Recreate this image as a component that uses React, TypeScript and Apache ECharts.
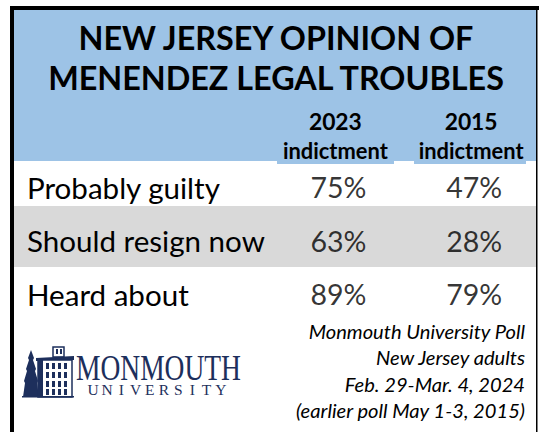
import React, { useEffect, useRef } from 'react';
import * as echarts from 'echarts';

// ---- data ----
const titleLines = ['NEW JERSEY OPINION OF', 'MENENDEZ LEGAL TROUBLES'];
const rows = ['Probably guilty', 'Should resign now', 'Heard about'];
const years = ['2023', '2015'];
const yearNote = 'indictment';
const values2023 = [75, 63, 89];
const values2015 = [47, 28, 79];
const sourceLines = [
  'Monmouth University Poll',
  'New Jersey adults',
  'Feb. 29-Mar. 4, 2024',
  '(earlier poll May 1-3, 2015)',
];
const logoName = 'MONMOUTH';
const logoSub = 'UNIVERSITY';

// ---- styling / layout ----
const FONT = 'Lato';
const SERIF = 'Liberation Serif';
const BLUE = '#9DC3E6';
const GRAY = '#D9D9D9';
const NAVY = '#1d2f5c';

function fitSize(text: string, target: number, weight = 'normal', style = 'normal', family = FONT) {
  const ctx = document.createElement('canvas').getContext('2d')!;
  ctx.font = `${style} ${weight} 100px "${family}"`;
  return (100 * target) / ctx.measureText(text).width;
}

export default function App() {
  const ref = useRef<HTMLDivElement>(null);
  useEffect(() => {
    const el = ref.current!;
    const chart = echarts.init(el, undefined, { renderer: 'svg' });

    const titleSize = fitSize(titleLines[1], 458, 'bold');
    const yearSize = fitSize(years[0], 53, 'bold');
    const noteSize = fitSize(yearNote, 105, 'bold');
    const rowSize = fitSize(rows[1], 238);
    const pctSize = fitSize('75%', 56);
    const srcSize = fitSize(sourceLines[3], 230, 'normal', 'italic');
    const monSize = fitSize(logoName, 165, 'normal', 'normal', SERIF);

    const C1 = 336;
    const C2 = 473;
    const band = C2 - C1;
    const gridLeft = C1 - band / 2;
    const rowTop = 160.5;
    const rowStep = 53.5;

    const txt = (text: string, x: number, y: number, size: number, extra: any = {}) => ({
      type: 'text',
      z: 10,
      x,
      y,
      style: {
        text,
        fontFamily: extra.family || FONT,
        fontSize: size,
        fontWeight: extra.weight || 'normal',
        fontStyle: extra.style || 'normal',
        fill: extra.fill || '#000',
        align: extra.align || 'center',
        verticalAlign: 'middle',
        textAlign: extra.align || 'center',
        textVerticalAlign: 'middle',
      },
      ...(extra.scaleY ? { scaleY: extra.scaleY, scaleX: extra.scaleX || 1 } : {}),
    });

    const subStart = 93;
    const subStep = 14.2;

    const logo = {
      type: 'group',
      z: 10,
      children: [
        // tree
        {
          type: 'polygon',
          shape: {
            points: [
              [31, 350], [34, 358], [33, 360], [36, 369], [35, 371], [38, 381], [37, 383], [39, 397],
              [23, 397], [25, 383], [24, 381], [27, 371], [26, 369], [29, 360], [28, 358],
            ],
          },
          style: { fill: NAVY },
        },
        // tower
        { type: 'rect', shape: { x: 53, y: 347, width: 11, height: 10 }, style: { fill: '#fff', stroke: NAVY, lineWidth: 1.5 } },
        { type: 'rect', shape: { x: 56, y: 349, width: 2, height: 5 }, style: { fill: NAVY } },
        { type: 'rect', shape: { x: 60, y: 349, width: 2, height: 5 }, style: { fill: NAVY } },
        // cornice
        { type: 'polygon', shape: { points: [[36, 358], [74, 356], [74, 360], [36, 361]] }, style: { fill: NAVY } },
        // body
        { type: 'rect', shape: { x: 38, y: 360, width: 34, height: 37 }, style: { fill: '#fff', stroke: NAVY, lineWidth: 1.5 } },
        { type: 'rect', shape: { x: 38, y: 360, width: 5, height: 37 }, style: { fill: NAVY } },
        ...[363, 372, 381, 389].flatMap((wy) =>
          [46, 52, 58, 64].map((wx) => ({
            type: 'rect',
            shape: { x: wx, y: wy, width: 3, height: 6 },
            style: { fill: NAVY },
          }))
        ),
        { type: 'rect', shape: { x: 22, y: 396, width: 52, height: 1.5 }, style: { fill: NAVY } },
      ],
    };

    const graphic: any[] = [
      { type: 'rect', z: 0, shape: { x: 14, y: 10, width: 522, height: 151 }, style: { fill: BLUE } },
      { type: 'rect', z: 0, shape: { x: 277, y: 160, width: 117, height: 4 }, style: { fill: BLUE } },
      { type: 'rect', z: 0, shape: { x: 414, y: 160, width: 112, height: 4 }, style: { fill: BLUE } },
      { type: 'rect', z: 0, shape: { x: 14, y: 206, width: 522, height: 61 }, style: { fill: GRAY } },
      { type: 'rect', z: 20, shape: { x: 10, y: 6, width: 4, height: 426 }, style: { fill: '#000' } },
      { type: 'rect', z: 20, shape: { x: 10, y: 6, width: 529, height: 4 }, style: { fill: '#000' } },
      { type: 'rect', z: 20, shape: { x: 536, y: 6, width: 1.5, height: 426 }, style: { fill: '#000' } },
      txt(titleLines[0], 276, 37, titleSize, { weight: 'bold' }),
      txt(titleLines[1], 276, 77.5, titleSize, { weight: 'bold' }),
      ...sourceLines.map((s, i) => txt(s, 525, 331 + i * 26.3, srcSize, { style: 'italic', align: 'right' })),
      txt(logoName, 76, 368.5, monSize, { family: SERIF, align: 'left', fill: NAVY, scaleY: 1.3 }),
      ...logoSub.split('').map((ch, i) => txt(ch, subStart + i * subStep, 389.5, 15.5, { family: SERIF, fill: NAVY })),
      logo,
    ];

    const option: any = {
      animation: false,
      backgroundColor: '#fff',
      grid: { left: gridLeft, top: rowTop, width: band * 2, height: rowStep * rows.length },
      xAxis: {
        type: 'category',
        data: years,
        position: 'top',
        z: 10,
        axisLine: { show: false },
        axisTick: { show: false },
        splitLine: { show: false },
        axisLabel: {
          interval: 0,
          margin: -5,
          formatter: (v: string) => `{y|${v}}\n{d|${yearNote}}`,
          rich: {
            y: { fontFamily: FONT, fontWeight: 'bold', fontSize: yearSize, lineHeight: 30, color: '#000' },
            d: { fontFamily: FONT, fontWeight: 'bold', fontSize: noteSize, lineHeight: 30, color: '#000' },
          },
        },
      },
      yAxis: {
        type: 'category',
        data: rows,
        inverse: true,
        z: 10,
        axisLine: { show: false },
        axisTick: { show: false },
        splitLine: { show: false },
        axisLabel: {
          interval: 0,
          align: 'left',
          margin: gridLeft - 27,
          fontFamily: FONT,
          fontSize: rowSize,
          color: '#000',
        },
      },
      graphic,
      series: [values2023, values2015].map((vals, k) => ({
        type: 'scatter',
        name: years[k],
        z: 10,
        silent: true,
        symbolSize: 1,
        itemStyle: { color: 'rgba(0,0,0,0)' },
        data: vals.map((v, i) => [years[k], rows[i], v]),
        label: {
          show: true,
          position: 'inside',
          offset: [3, 0],
          formatter: (p: any) => `${p.value[2]}%`,
          fontFamily: FONT,
          fontSize: pctSize,
          color: '#000',
        },
      })),
    };
    chart.setOption(option);
    return () => chart.dispose();
  }, []);
  return <div ref={ref} style={{ position: 'absolute', left: 0, top: 0, width: 539, height: 432 }} />;
}
